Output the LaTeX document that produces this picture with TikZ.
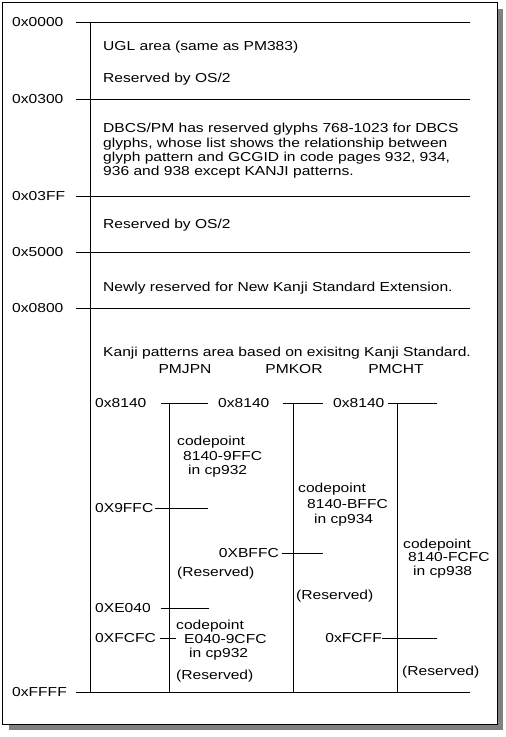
\documentclass[tikz,border=0pt]{standalone}
\usepackage{fontspec}
\setmainfont[FakeStretch=1.2]{Liberation Sans}
\definecolor{shadowgray}{RGB}{128,128,128}
\begin{document}
\begin{tikzpicture}[x=1pt,y=-1pt,font=\fontsize{13}{14}\selectfont,
    addr/.style={anchor=west,inner sep=0pt,text height=9pt,text depth=0pt},
    addrr/.style={anchor=east,inner sep=0pt,text height=9pt,text depth=0pt},
    txt/.style={anchor=base west,inner sep=0pt},
    rule/.style={line width=1pt}]
  \useasboundingbox (0,0) rectangle (506,737);
  \fill[shadowgray] (9,9) rectangle (503,730);
  \draw[rule,fill=white] (2,2) rectangle (497,724);
  % main map
  \foreach \yy/\lab/\nm in {22/0x0000/a0,99/0x0300/a1,196/0x03FF/a2,
                            252/0x5000/a3,308/0x0800/a4,692/0xFFFF/a5}{
    \node[addr] (\nm) at (12,\yy) {\lab};
    \draw[rule] (76,\yy) -- (470,\yy);
  }
  \draw[rule] (90,22) -- (90,692);
  \node[txt] (ugl) at (103,50.5) {UGL area (same as PM383)};
  \node[txt] (os2a) at (103,82.5) {Reserved by OS/2};
  \node[txt] (dbcs1) at (103,132.5) {DBCS/PM has reserved glyphs 768-1023 for DBCS};
  \node[txt] (dbcs2) at (103,147) {glyphs, whose list shows the relationship between};
  \node[txt] (dbcs3) at (103,161) {glyph pattern and GCGID in code pages 932, 934,};
  \node[txt] (dbcs4) at (103,175.5) {936 and 938 except KANJI patterns.};
  \node[txt] (os2b) at (103,228) {Reserved by OS/2};
  \node[txt] (newkj) at (103,291.5) {Newly reserved for New Kanji Standard Extension.};
  \node[txt] (kanji) at (103,356) {Kanji patterns area based on exisitng Kanji Standard.};
  \node[anchor=base,inner sep=0pt] (pmjpn) at (185,373) {PMJPN};
  \node[anchor=base,inner sep=0pt] (pmkor) at (294,373) {PMKOR};
  \node[anchor=base,inner sep=0pt] (pmcht) at (396,373) {PMCHT};
  % PMJPN
  \coordinate (jpn) at (169,403);
  \draw[rule] (jpn) -- (jpn |- a5);
  \node[addr] (j8140) at (95,403) {0x8140};
  \node[addr] (j9ffc) at (95,508) {0X9FFC};
  \node[addr] (je040) at (95,608) {0XE040};
  \node[addr] (jfcfc) at (95,638) {0XFCFC};
  \draw[rule] (161,403) -- (208,403);
  \draw[rule] (155,508) -- (208,508);
  \draw[rule] (161,608) -- (209,608);
  \draw[rule] (160,638) -- (176,638);
  \node[txt] (jcp1) at (177,445) {codepoint};
  \node[txt] (jcp2) at (183,460) {8140-9FFC};
  \node[txt] (jcp3) at (188,474) {in cp932};
  \node[txt] (jres1) at (177,576) {(Reserved)};
  \node[txt] (jcp4) at (176,629) {codepoint};
  \node[txt] (jcp5) at (184,643) {E040-9CFC};
  \node[txt] (jcp6) at (189,657) {in cp932};
  \node[txt] (jres2) at (176,679) {(Reserved)};
  % PMKOR
  \coordinate (kor) at (293,403);
  \draw[rule] (kor) -- (kor |- a5);
  \node[addr] (k8140) at (218,403) {0x8140};
  \node[addrr] (kbffc) at (279,553) {0XBFFC};
  \draw[rule] (283,403) -- (323,403);
  \draw[rule] (282,553) -- (323,553);
  \node[txt] (kcp1) at (298,492) {codepoint};
  \node[txt] (kcp2) at (307,508) {8140-BFFC};
  \node[txt] (kcp3) at (314,523) {in cp934};
  \node[txt] (kres) at (296,599) {(Reserved)};
  % PMCHT
  \coordinate (cht) at (397,403);
  \draw[rule] (cht) -- (cht |- a5);
  \node[addr] (c8140) at (333,403) {0x8140};
  \node[addrr] (cfcff) at (382,638) {0xFCFF};
  \draw[rule] (388,403) -- (437,403);
  \draw[rule] (382,638) -- (437,638);
  \node[txt] (ccp1) at (403,548) {codepoint};
  \node[txt] (ccp2) at (408,561.5) {8140-FCFC};
  \node[txt] (ccp3) at (413,575) {in cp938};
  \node[txt] (cres) at (402,675) {(Reserved)};
\end{tikzpicture}
\end{document}
